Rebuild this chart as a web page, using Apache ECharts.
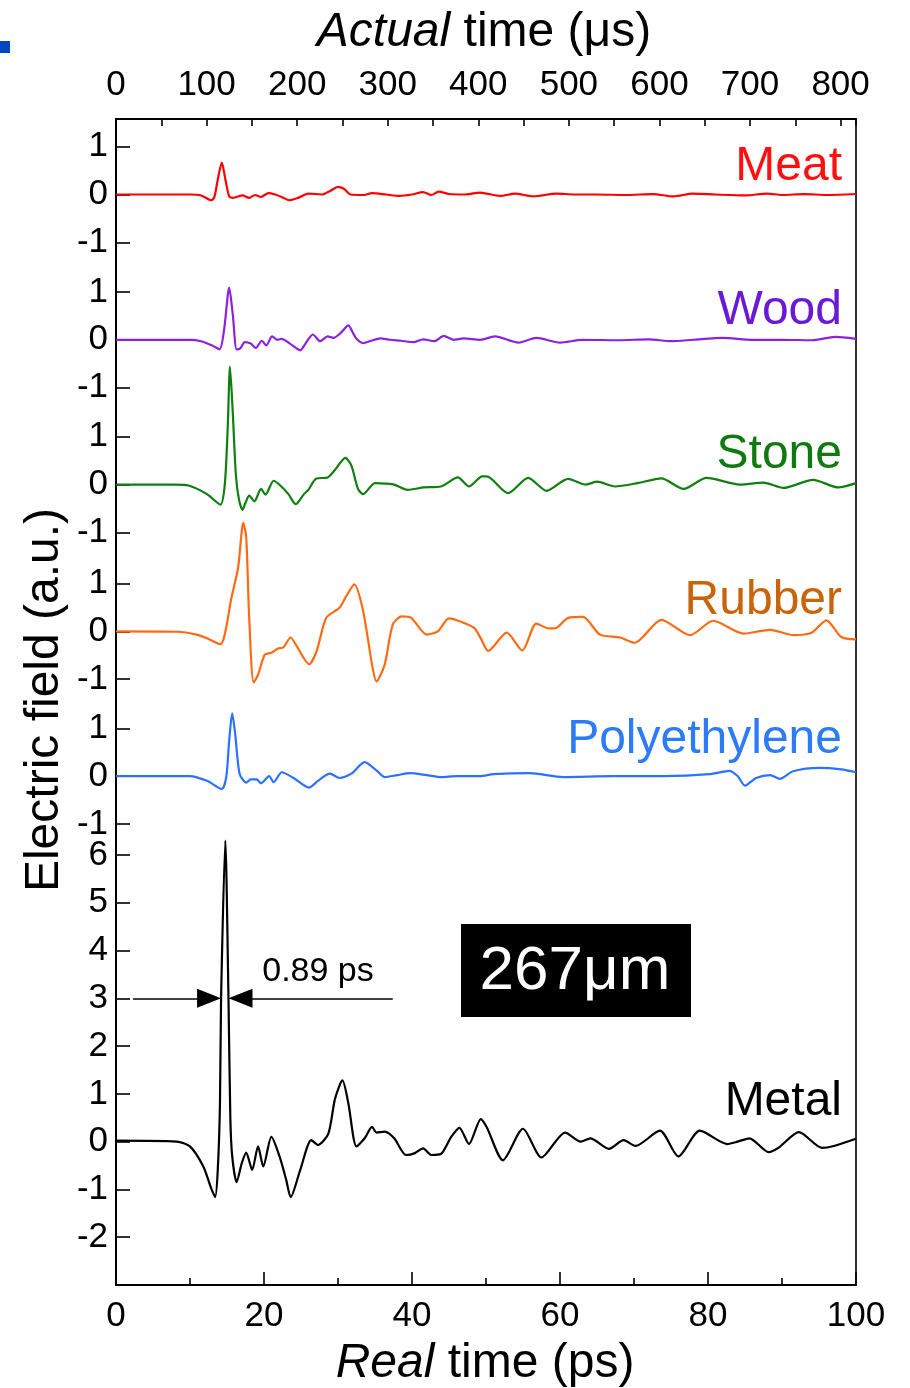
<!DOCTYPE html>
<html>
<head>
<meta charset="utf-8">
<script src="https://cdn.jsdelivr.net/npm/echarts@6/dist/echarts.min.js"></script>
<style>
html,body{margin:0;padding:0;background:#fff;}
#c{width:910px;height:1388px;}
</style>
</head>
<body>
<div id="c"></div>
<script>
// ---- data (time in ps, field in a.u.) ----
const names = ['Meat', 'Wood', 'Stone', 'Rubber', 'Polyethylene', 'Metal'];
const offsets = [19.82, 16.78, 13.75, 10.68, 7.65, 0];
const localTicks = [[-1, 0, 1], [-1, 0, 1], [-1, 0, 1], [-1, 0, 1], [-1, 0, 1], [-2, -1, 0, 1, 2, 3, 4, 5, 6]];
const lineColors = ['#ff0000', '#8c22e0', '#0f7f0f', '#ff6a13', '#2a72ff', '#000000'];
const labelColors = ['#ff1010', '#6a1ad6', '#107a10', '#c8640a', '#2d7bf5', '#000000'];

const meat = [[0,0],[10,0],[11.5,-0.02],[12.9,-0.12],[13.3,-0.05],[13.8,0.35],[14.3,0.67],[14.8,0.3],[15.3,-0.04],[15.8,-0.07],[16.3,-0.05],[17.1,-0.02],[18.0,-0.07],[18.8,-0.01],[19.6,-0.05],[20.6,0.03],[21.5,0.0],[22.5,-0.06],[23.4,-0.12],[24.6,-0.07],[26.0,0.02],[27.8,0.0],[29.0,0.08],[30.0,0.16],[30.8,0.12],[31.7,0.0],[33.5,-0.01],[34.6,0.03],[36.5,0.0],[38.3,-0.03],[40.0,0.0],[41.5,0.05],[42.6,-0.01],[43.6,0.06],[45,0.01],[47,0.0],[49.2,0.04],[51.9,-0.03],[53.9,0.02],[56.4,-0.04],[59.5,0.02],[62,0.0],[65,0.0],[69,-0.01],[72.6,0.01],[75.3,-0.04],[78,0.02],[81,0.0],[85,-0.02],[88,0.02],[90,-0.01],[93,0.01],[96,-0.01],[100,0.01]];
const wood = [[0,0],[10,0],[11.5,-0.03],[13.0,-0.12],[14.0,-0.2],[14.6,0.2],[15.3,1.09],[15.8,0.5],[16.3,-0.2],[16.8,-0.18],[17.4,-0.05],[18.2,-0.08],[18.9,-0.17],[19.7,-0.02],[20.3,-0.12],[21.1,0.07],[21.8,0.0],[22.4,0.02],[23.5,-0.08],[24.9,-0.22],[25.6,-0.08],[26.6,0.11],[27.6,-0.03],[28.6,0.07],[29.4,0.04],[30.4,0.15],[31.4,0.30],[32.0,0.15],[32.5,0.02],[33.4,-0.07],[34.5,-0.02],[35.7,0.03],[37,0.0],[38.5,-0.02],[40.2,-0.05],[41.5,0.01],[43,-0.03],[44.3,0.08],[45.6,0.0],[47,0.03],[49.2,0.0],[51.2,0.07],[54.4,-0.06],[56.8,0.04],[60,-0.06],[63,0.0],[68,-0.01],[72,0.01],[75,-0.03],[78,0.0],[82,0.04],[86,0.0],[90,0.0],[94,-0.01],[97.2,0.06],[100,0.02]];
const stone = [[0,0],[8,0],[9.8,-0.02],[12.3,-0.2],[14.1,-0.42],[14.7,0.0],[15.1,1.2],[15.4,2.47],[15.75,1.6],[16.2,0.2],[16.6,-0.3],[17.1,-0.53],[17.5,-0.38],[18.0,-0.23],[18.7,-0.35],[19.6,-0.09],[20.2,-0.21],[21.3,0.08],[22.2,-0.02],[23.3,-0.2],[24.3,-0.41],[25.4,-0.2],[26.0,-0.11],[27.0,0.12],[28.6,0.15],[29.5,0.29],[31.0,0.56],[31.8,0.40],[32.7,-0.09],[33.4,-0.2],[35.0,0.03],[36.5,0.02],[37.6,0.0],[39.4,-0.11],[41.6,-0.06],[43.9,-0.04],[46.2,0.15],[47.7,-0.04],[49.5,0.17],[50.1,0.17],[53.0,-0.18],[55.7,0.14],[58.2,-0.13],[61.1,0.12],[63.5,0.0],[65,0.06],[67.4,-0.04],[70.5,0.03],[73.7,0.13],[76.7,-0.09],[79.8,0.14],[84.3,0.0],[87.5,0.04],[90.2,-0.07],[94.2,0.1],[97.6,-0.06],[100,0.03]];
const rubber = [[0,0],[8.2,-0.01],[10.9,-0.07],[12.5,-0.16],[14.1,-0.27],[14.7,-0.07],[15.6,0.7],[16.5,1.33],[17.2,2.27],[17.6,1.96],[18.0,0.28],[18.6,-1.07],[19.2,-0.91],[20.1,-0.49],[21.0,-0.45],[21.9,-0.36],[22.6,-0.34],[23.6,-0.13],[24.3,-0.28],[26.1,-0.69],[27.1,-0.42],[28.4,0.28],[30.2,0.49],[31.1,0.73],[32.2,0.98],[33.4,0.42],[34.6,-0.7],[35.2,-1.05],[36.3,-0.7],[37.4,0.14],[38.6,0.31],[39.9,0.28],[42.0,-0.07],[43.5,0.0],[45.0,0.27],[46.6,0.2],[48.4,0.07],[49.3,-0.15],[50.3,-0.41],[52.8,-0.03],[54.9,-0.4],[56.8,0.16],[58.5,0.06],[59.5,0.07],[61.1,0.28],[63.1,0.3],[65.4,-0.07],[68.1,-0.13],[70.1,-0.24],[73.7,0.24],[77.6,-0.08],[80.7,0.22],[84.8,-0.05],[88.4,0.03],[91.6,-0.08],[94,-0.03],[96.0,0.23],[98.0,-0.12],[100,-0.17]];
const polyethylene = [[0,0],[10,0],[12.3,-0.1],[14.3,-0.27],[14.9,-0.02],[15.3,0.75],[15.7,1.31],[16.1,0.89],[16.7,0.05],[17.6,-0.14],[18.2,-0.07],[19.0,-0.07],[19.6,-0.15],[20.7,0.0],[21.3,-0.13],[22.4,0.08],[24.0,-0.04],[26.1,-0.24],[27.3,-0.1],[28.9,0.05],[30.2,-0.04],[31.8,0.05],[33.6,0.29],[35.2,0.12],[36.3,-0.02],[38,0.02],[39.7,0.06],[42,0.02],[44.0,-0.02],[46,0.0],[49.2,0.0],[51,0.04],[55.9,0.06],[60.4,-0.02],[67.1,0.0],[74,0.0],[80.2,0.04],[82.9,0.11],[84,0.0],[85.0,-0.2],[86.5,-0.04],[88.4,0.02],[89.7,-0.06],[91.5,0.1],[95.1,0.17],[98,0.14],[100,0.08]];
const metal = [[0,0.02],[8.2,0],[10,-0.1],[11.8,-0.52],[12.8,-0.95],[13.4,-1.16],[13.75,-0.6],[14.05,0.8],[14.2,3.0],[14.77,6.3],[15.2,3.0],[15.45,0.5],[15.7,-0.3],[16.3,-0.85],[17.0,-0.45],[17.6,-0.23],[18.4,-0.59],[19.2,-0.1],[19.9,-0.52],[21.0,0.1],[22.1,-0.31],[23.0,-0.8],[23.6,-1.16],[24.9,-0.59],[26.4,0.03],[27.3,-0.07],[28.7,0.17],[29.6,0.9],[30.6,1.28],[31.4,0.8],[32.5,-0.1],[33.6,0.07],[34.6,0.31],[35.2,0.19],[36.3,0.21],[37.6,0.07],[39.2,-0.28],[40.4,-0.24],[41.5,-0.14],[42.6,-0.28],[43.9,-0.26],[45.3,0.1],[46.4,0.29],[47.7,-0.05],[49.3,0.47],[50.1,0.3],[52.3,-0.39],[55.0,0.27],[57.5,-0.33],[60.7,0.19],[62.8,0.0],[64.1,0.07],[66.6,-0.15],[68.6,0.03],[70.2,-0.09],[73.5,0.23],[76.0,-0.31],[78.9,0.23],[82.6,-0.05],[84,0.0],[85.6,0.07],[88.2,-0.22],[89.5,-0.13],[92.3,0.2],[95.4,-0.13],[97,-0.09],[100,0.06]];
const traces = [meat, wood, stone, rubber, polyethylene, metal];

// FWHM annotation (ps, a.u. on metal trace)
const fwhmLevel = 3;
const fwhmLeft = 14.2, fwhmRight = 15.2;
const fwhmLineStart = 2.3, fwhmLineEnd = 37.4;
const fwhmText = '0.89 ps';
const thicknessText = '267μm';

const realTicks = { min: 0, max: 100, interval: 20 };
const actualTicks = { min: 0, max: 817, interval: 50 };

// ---- build ----
const FONT = "'Liberation Sans', Arial, Helvetica, sans-serif";
const yTickPos = [], yTickText = [];
offsets.forEach((o, i) => localTicks[i].forEach(t => { yTickPos.push(+(o + t).toFixed(4)); yTickText.push(String(t)); }));

const chart = echarts.init(document.getElementById('c'), null, { renderer: 'canvas' });
const arrowLen = 24; // px
const pxPerPs = 740 / 100;
const headOffset = arrowLen / 2 / pxPerPs;

const series = traces.map((d, i) => ({
  type: 'line',
  name: names[i],
  data: d.map(p => [p[0], +(p[1] + offsets[i]).toFixed(4)]),
  showSymbol: false,
  smooth: 0.25,
  lineStyle: { color: lineColors[i], width: 2.2 },
  itemStyle: { color: lineColors[i] },
  silent: true,
  z: 3
}));
series[5].markLine = {
  silent: true,
  symbol: ['none', 'triangle'],
  symbolSize: [19, arrowLen],
  lineStyle: { color: '#000', width: 1.6, type: 'solid' },
  itemStyle: { color: '#000' },
  label: { show: false },
  emphasis: { disabled: true },
  animation: false,
  data: [
    [{ coord: [fwhmLineStart, fwhmLevel] }, { coord: [fwhmLeft - headOffset, fwhmLevel] }],
    [{ coord: [fwhmLineEnd, fwhmLevel] }, { coord: [fwhmRight + headOffset, fwhmLevel] }]
  ]
};

const labelY = [167, 310.5, 455, 600.5, 740, 1102];
const graphics = [
  { type: 'rect', shape: { x: 0, y: 41, width: 10, height: 12 }, style: { fill: '#0046be' } },
  { type: 'text', x: 484, y: 33, style: { text: '{i|Actual} time (μs)', font: '48px ' + FONT, fill: '#000', align: 'center', verticalAlign: 'middle', rich: { i: { fontStyle: 'italic', fontSize: 48, fontFamily: FONT, fill: '#000' } } } },
  { type: 'text', x: 485, y: 1364, style: { text: '{i|Real} time (ps)', font: '48px ' + FONT, fill: '#000', align: 'center', verticalAlign: 'middle', rich: { i: { fontStyle: 'italic', fontSize: 48, fontFamily: FONT, fill: '#000' } } } },
  { type: 'text', x: 45, y: 700, rotation: Math.PI / 2, style: { text: 'Electric field (a.u.)', font: '48px ' + FONT, fill: '#000', align: 'center', verticalAlign: 'middle' } },
  { type: 'text', x: 318, y: 972, z: 10, style: { text: fwhmText, font: '34px ' + FONT, fill: '#000', align: 'center', verticalAlign: 'middle' } },
  { type: 'rect', z: 10, shape: { x: 461, y: 924, width: 230, height: 93 }, style: { fill: '#000' } },
  { type: 'text', x: 575, y: 972, z: 11, style: { text: thicknessText, font: '62px ' + FONT, fill: '#fff', align: 'center', verticalAlign: 'middle' } }
];
names.forEach((n, i) => graphics.push({ type: 'text', x: 842, y: labelY[i], z: 10, style: { text: n, font: '48px ' + FONT, fill: labelColors[i], align: 'right', verticalAlign: 'middle' } }));

const option = {
  animation: false,
  backgroundColor: '#fff',
  grid: { left: 116, right: 54, top: 119, bottom: 103, show: true, borderColor: '#000', borderWidth: 1.6, backgroundColor: 'transparent' },
  xAxis: [
    {
      type: 'value', position: 'bottom', min: realTicks.min, max: realTicks.max, interval: realTicks.interval,
      axisLine: { show: true, onZero: false, lineStyle: { color: '#000', width: 2 } },
      axisTick: { show: true, inside: true, length: 13, lineStyle: { color: '#000', width: 1.6 } },
      minorTick: { show: true, splitNumber: 2, length: 7, lineStyle: { color: '#000', width: 1.6 } },
      axisLabel: { color: '#000', fontSize: 35, fontFamily: FONT, margin: 14 },
      splitLine: { show: false }, minorSplitLine: { show: false }
    },
    {
      type: 'value', position: 'top', min: actualTicks.min, max: actualTicks.max, interval: actualTicks.interval,
      axisLine: { show: true, onZero: false, lineStyle: { color: '#000', width: 2 } },
      axisTick: { show: true, inside: true, length: 7, lineStyle: { color: '#000', width: 1.6 } },
      axisLabel: { color: '#000', fontSize: 35, fontFamily: FONT, margin: 16, formatter: v => (v % 100 === 0 ? String(v) : '') },
      splitLine: { show: false }
    }
  ],
  yAxis: {
    type: 'value', min: -3, max: 21.4,
    axisLine: { show: true, onZero: false, lineStyle: { color: '#000', width: 2 } },
    axisTick: { show: true, inside: true, length: 14, customValues: yTickPos, lineStyle: { color: '#000', width: 1.6 } },
    axisLabel: { color: '#000', fontSize: 35, fontFamily: FONT, margin: 8, customValues: yTickPos,
      formatter: v => { const i = yTickPos.findIndex(p => Math.abs(p - v) < 1e-6); return i >= 0 ? yTickText[i] : ''; } },
    splitLine: { show: false }
  },
  series: series,
  graphic: graphics
};
chart.setOption(option);
</script>
</body>
</html>
